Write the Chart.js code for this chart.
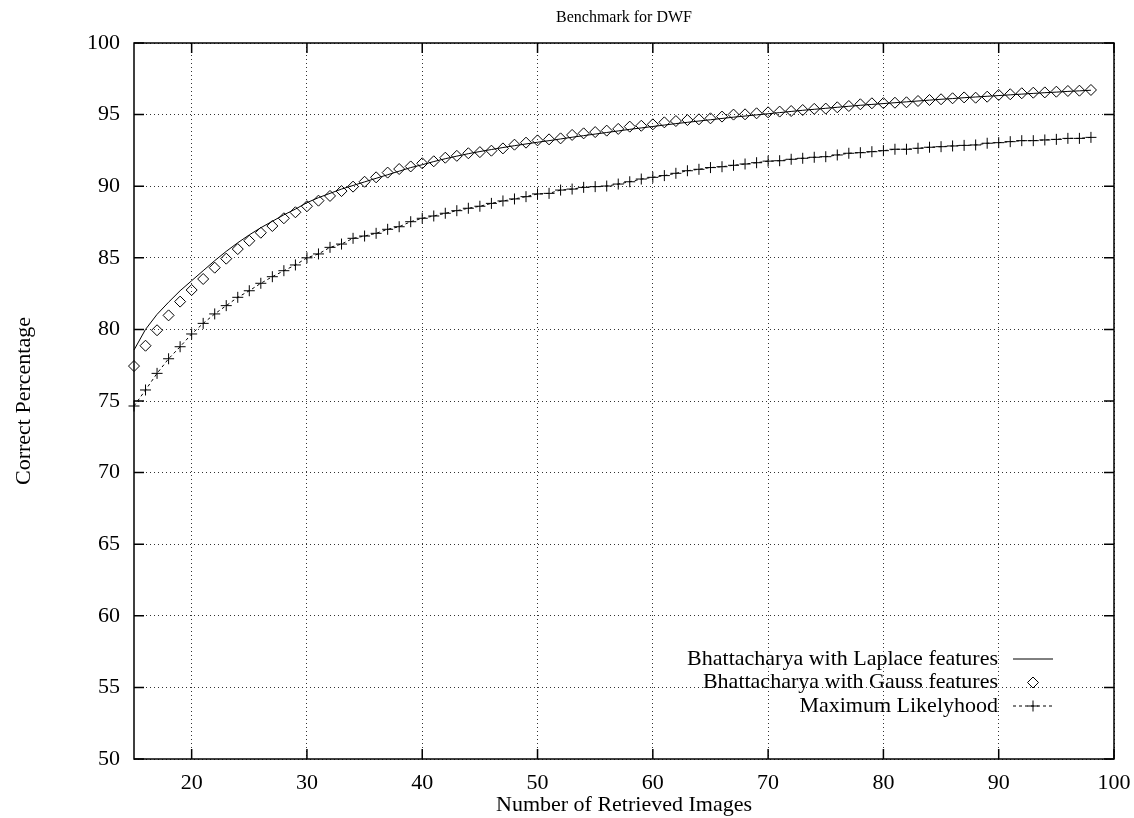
<!DOCTYPE html>
<html>
<head>
<meta charset="utf-8">
<title>Benchmark for DWF</title>
<script src="https://cdn.jsdelivr.net/npm/chart.js@4.4.1/dist/chart.umd.min.js"></script>
<style>
  body { margin: 0; background: #fff; }
  canvas { display: block; }
</style>
</head>
<body>
<canvas id="chart" width="1134" height="818"></canvas>
<script>
// number of retrieved images (x)
const retrieved = [
  15, 16, 17, 18, 19, 20, 21, 22, 23, 24,
  25, 26, 27, 28, 29, 30, 31, 32, 33, 34,
  35, 36, 37, 38, 39, 40, 41, 42, 43, 44,
  45, 46, 47, 48, 49, 50, 51, 52, 53, 54,
  55, 56, 57, 58, 59, 60, 61, 62, 63, 64,
  65, 66, 67, 68, 69, 70, 71, 72, 73, 74,
  75, 76, 77, 78, 79, 80, 81, 82, 83, 84,
  85, 86, 87, 88, 89, 90, 91, 92, 93, 94,
  95, 96, 97, 98
];

const laplace = [
  78.56, 80.0, 81.05, 81.9, 82.7, 83.4, 84.1, 84.8, 85.45, 86.05,
  86.6, 87.1, 87.55, 88.0, 88.4, 88.85, 89.2, 89.5, 89.8, 90.05,
  90.3, 90.55, 90.8, 91.05, 91.3, 91.5, 91.72, 91.92, 92.1, 92.27,
  92.42, 92.56, 92.7, 92.83, 92.95, 93.07, 93.18, 93.3, 93.42, 93.53,
  93.64, 93.75, 93.86, 93.97, 94.07, 94.17, 94.27, 94.37, 94.46, 94.55,
  94.64, 94.73, 94.82, 94.9, 94.98, 95.06, 95.14, 95.22, 95.3, 95.37,
  95.44, 95.51, 95.58, 95.65, 95.71, 95.77, 95.83, 95.89, 95.95, 96.01,
  96.07, 96.12, 96.18, 96.23, 96.28, 96.33, 96.38, 96.43, 96.48, 96.53,
  96.57, 96.62, 96.66, 96.7
];

const gauss = [
  77.44, 78.86, 79.94, 80.98, 81.94, 82.75, 83.52, 84.31, 84.94, 85.61,
  86.19, 86.75, 87.22, 87.76, 88.18, 88.6, 88.99, 89.32, 89.66, 89.97,
  90.31, 90.62, 90.95, 91.2, 91.38, 91.6, 91.74, 91.99, 92.12, 92.3,
  92.38, 92.48, 92.64, 92.9, 93.04, 93.2, 93.27, 93.34, 93.58, 93.69,
  93.78, 93.88, 94.0, 94.16, 94.22, 94.32, 94.46, 94.55, 94.62, 94.67,
  94.74, 94.86, 95.0, 95.02, 95.09, 95.16, 95.21, 95.25, 95.32, 95.4,
  95.42, 95.51, 95.6, 95.72, 95.79, 95.8, 95.83, 95.86, 95.95, 96.02,
  96.07, 96.14, 96.2, 96.18, 96.25, 96.37, 96.42, 96.49, 96.53, 96.55,
  96.6, 96.65, 96.67, 96.72
];

const likelihood = [
  74.65, 75.77, 76.93, 77.95, 78.79, 79.68, 80.42, 81.08, 81.66, 82.24,
  82.7, 83.22, 83.68, 84.1, 84.5, 85.0, 85.27, 85.73, 85.96, 86.36,
  86.52, 86.71, 86.99, 87.17, 87.52, 87.76, 87.92, 88.11, 88.29, 88.46,
  88.6, 88.8, 88.97, 89.11, 89.27, 89.46, 89.5, 89.73, 89.8, 89.92,
  89.97, 90.01, 90.15, 90.31, 90.5, 90.62, 90.74, 90.9, 91.08, 91.18,
  91.3, 91.36, 91.46, 91.55, 91.64, 91.75, 91.78, 91.88, 91.95, 92.02,
  92.06, 92.18, 92.3, 92.34, 92.41, 92.48, 92.58, 92.58, 92.65, 92.72,
  92.76, 92.81, 92.85, 92.88, 93.0, 93.04, 93.11, 93.18, 93.18, 93.23,
  93.27, 93.34, 93.34, 93.41
];

const xTicks = [20, 30, 40, 50, 60, 70, 80, 90, 100];
const yTicks = [50, 55, 60, 65, 70, 75, 80, 85, 90, 95, 100];

const serif = '"Liberation Serif", "DejaVu Serif", serif';
const textFont = { family: serif, size: 22, weight: 'normal' };

function points(values) {
  return retrieved.map((x, i) => ({ x: x, y: values[i] }));
}

// gnuplot look: solid frame, inward ticks on all four sides, key inside bottom right
const gnuplotFrame = {
  id: 'gnuplotFrame',
  afterDraw(chart) {
    const { ctx, chartArea: area, scales } = chart;
    const tickLen = 10;
    ctx.save();
    ctx.strokeStyle = '#000';
    ctx.lineWidth = 1.5;
    ctx.setLineDash([]);
    ctx.strokeRect(area.left, area.top, area.right - area.left, area.bottom - area.top);

    ctx.beginPath();
    xTicks.forEach(v => {
      const px = scales.x.getPixelForValue(v);
      ctx.moveTo(px, area.bottom);
      ctx.lineTo(px, area.bottom - tickLen);
      ctx.moveTo(px, area.top);
      ctx.lineTo(px, area.top + tickLen);
    });
    yTicks.forEach(v => {
      const py = scales.y.getPixelForValue(v);
      ctx.moveTo(area.left, py);
      ctx.lineTo(area.left + tickLen, py);
      ctx.moveTo(area.right, py);
      ctx.lineTo(area.right - tickLen, py);
    });
    ctx.stroke();

    // key
    ctx.font = '22px ' + serif;
    ctx.fillStyle = '#000';
    ctx.textAlign = 'right';
    ctx.textBaseline = 'middle';
    const textRight = area.right - 116;
    const sampleLeft = area.right - 101;
    const sampleRight = area.right - 61;
    const firstRow = area.bottom - 100;
    const rowGap = 23.5;

    chart.data.datasets.forEach((ds, i) => {
      const y = firstRow + i * rowGap;
      ctx.fillStyle = '#000';
      ctx.fillText(ds.label, textRight, y);
      if (ds.showLine !== false) {
        ctx.save();
        ctx.lineWidth = ds.borderWidth;
        ctx.strokeStyle = ds.borderColor;
        ctx.setLineDash(ds.borderDash || []);
        ctx.beginPath();
        ctx.moveTo(sampleLeft, y);
        ctx.lineTo(sampleRight, y);
        ctx.stroke();
        ctx.restore();
      }
      if (ds.pointRadius > 0) {
        ctx.save();
        ctx.lineWidth = ds.pointBorderWidth;
        ctx.strokeStyle = ds.pointBorderColor;
        ctx.fillStyle = 'rgba(0,0,0,0)';
        ctx.setLineDash([]);
        Chart.helpers.drawPoint(ctx, {
          pointStyle: ds.pointStyle,
          radius: ds.pointRadius,
          borderWidth: ds.pointBorderWidth,
          rotation: 0
        }, (sampleLeft + sampleRight) / 2, y);
        ctx.restore();
      }
    });
    ctx.restore();
  }
};

new Chart(document.getElementById('chart'), {
  type: 'line',
  data: {
    datasets: [
      {
        label: 'Bhattacharya with Laplace features',
        data: points(laplace),
        borderColor: '#000',
        borderWidth: 1,
        pointRadius: 0,
        fill: false,
        clip: false
      },
      {
        label: 'Bhattacharya with Gauss features',
        data: points(gauss),
        showLine: false,
        pointStyle: 'rectRot',
        pointRadius: 5.5,
        pointBorderWidth: 1,
        pointBorderColor: '#000',
        pointBackgroundColor: 'rgba(0,0,0,0)',
        borderColor: '#000',
        clip: false
      },
      {
        label: 'Maximum Likelyhood',
        data: points(likelihood),
        borderColor: '#000',
        borderWidth: 1,
        borderDash: [3, 3],
        pointStyle: 'cross',
        pointRadius: 5.5,
        pointBorderWidth: 1,
        pointBorderColor: '#000',
        fill: false,
        clip: false
      }
    ]
  },
  options: {
    responsive: false,
    animation: false,
    events: [],
    layout: { padding: { left: 0, right: 20, top: 0, bottom: 0 } },
    plugins: {
      legend: { display: false },
      tooltip: { enabled: false },
      title: {
        display: true,
        fullSize: false,
        text: 'Benchmark for DWF',
        color: '#000',
        font: { family: serif, size: 16, weight: 'normal' },
        padding: { top: 8, bottom: 15.8 }
      }
    },
    scales: {
      x: {
        type: 'linear',
        min: 15,
        max: 100,
        afterBuildTicks: s => { s.ticks = xTicks.map(v => ({ value: v })); },
        afterFit: s => {
          s.height = 59;
          s.paddingLeft = 0;
          s.paddingRight = 0;
        },
        grid: { color: '#333', lineWidth: 1, drawTicks: false },
        border: { display: false, dash: [1, 3] },
        ticks: { padding: 11, color: '#000', font: textFont, maxRotation: 0, autoSkip: false },
        title: {
          display: true,
          text: 'Number of Retrieved Images',
          color: '#000',
          font: textFont,
          padding: { top: 0, bottom: 0 }
        }
      },
      y: {
        type: 'linear',
        min: 50,
        max: 100,
        afterBuildTicks: s => { s.ticks = yTicks.map(v => ({ value: v })); },
        afterFit: s => { s.width = 134; },
        grid: { color: '#333', lineWidth: 1, drawTicks: false },
        border: { display: false, dash: [1, 3] },
        ticks: { padding: 14, color: '#000', font: textFont, autoSkip: false },
        title: {
          display: true,
          text: 'Correct Percentage',
          color: '#000',
          font: textFont,
          padding: { top: 11, bottom: 0 }
        }
      }
    }
  },
  plugins: [gnuplotFrame]
});
</script>
</body>
</html>
